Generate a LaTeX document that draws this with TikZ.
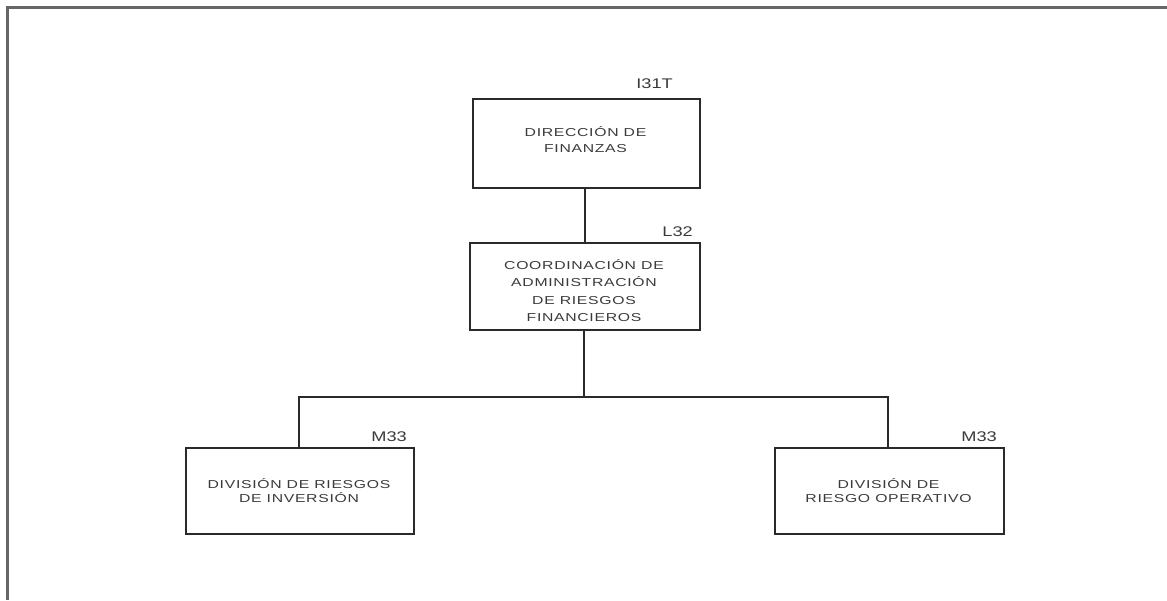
\documentclass[tikz,border=0pt]{standalone}
\usepackage{fontspec}
\setmainfont{Liberation Sans}
\newfontfamily\widefont[FakeStretch=1.37,LetterSpace=6]{Liberation Sans}
\newfontfamily\codefont[FakeStretch=1.3]{Liberation Sans}
\definecolor{txt}{HTML}{3A3A3A}
\definecolor{ln}{HTML}{2A2A2A}
\begin{document}
\begin{tikzpicture}[x=1pt,y=-1pt,
  box/.style={draw=ln,line width=1.5pt,rectangle,anchor=north west,inner sep=0pt},
  btext/.style={text=txt,align=center},
  code/.style={font=\codefont\fontsize{14}{14}\selectfont,text=txt,anchor=south east,inner sep=0pt},
  conn/.style={draw=ln,line width=1.6pt}]
\useasboundingbox (0,0) rectangle (1167,600);
\draw[draw=gray!80!black,line width=3pt] (7,600) -- (7,7) -- (1167,7);
% boxes
\node[box,minimum width=227pt,minimum height=89pt] (dir) at (472,98) {};
\node[btext,font=\widefont\fontsize{11.5}{16}\selectfont] (t1) at (585.5,140) {DIRECCIÓN DE\\FINANZAS};
\node[code] (c1) at (673,89) {I31T};
\node[box,minimum width=230pt,minimum height=87pt] (coord) at (469,242) {};
\node[btext,font=\widefont\fontsize{11.5}{17.5}\selectfont] (t2) at (584,290.5) {COORDINACIÓN DE\\ADMINISTRACIÓN\\DE RIESGOS\\FINANCIEROS};
\node[code] (c2) at (693,237) {L32};
\node[box,minimum width=228pt,minimum height=86pt] (inv) at (185,447) {};
\node[btext,font=\widefont\fontsize{11.5}{14}\selectfont] (t3) at (299,490.5) {DIVISIÓN DE RIESGOS\\DE INVERSIÓN};
\node[code] (c3) at (407,442) {M33};
\node[box,minimum width=229pt,minimum height=86pt] (ope) at (774,447) {};
\node[btext,font=\widefont\fontsize{11.5}{14}\selectfont] (t4) at (888.5,490.5) {DIVISIÓN DE\\RIESGO OPERATIVO};
\node[code] (c4) at (997,442) {M33};
% connectors
\coordinate (bus) at (584,397);
\draw[conn] (dir.south -| coord.south) -- (coord.north);
\draw[conn] (coord.south -| bus) -- (bus);
\draw[conn] (inv.north -| 299,0) |- (bus) -| (ope.north -| 888,0);
\end{tikzpicture}
\end{document}
